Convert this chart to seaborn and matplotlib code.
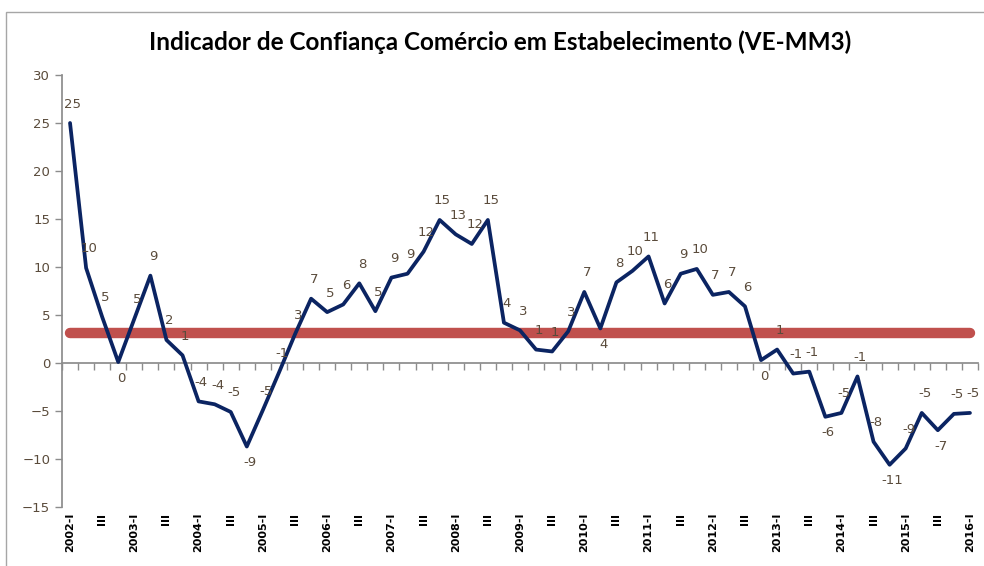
"""Indicador de Confiança Comércio em Estabelecimento (VE-MM3).

Quarterly line chart 2002-I .. 2016-I with data labels and a thick
reference line at the period average.
"""
import matplotlib
matplotlib.use("Agg")  # headless backend before pyplot
import matplotlib.pyplot as plt
import pandas as pd
import seaborn as sns
from matplotlib.patches import Rectangle

# ── data ──────────────────────────────────────────────────────────────────────
trimestre = list(range(57))  # 0 = 2002-I ... 56 = 2016-I
indicador = [25.0, 9.9, 4.8, 0.1, 4.6, 9.1, 2.4, 0.8, -4.0, -4.3,
             -5.1, -8.7, -4.9, -1.0, 3.0, 6.7, 5.3, 6.1, 8.3, 5.4,
             8.9, 9.3, 11.6, 14.9, 13.4, 12.4, 14.9, 4.2, 3.4, 1.4,
             1.2, 3.3, 7.4, 3.6, 8.4, 9.6, 11.1, 6.2, 9.3, 9.8,
             7.1, 7.4, 5.9, 0.3, 1.4, -1.1, -0.9, -5.6, -5.2, -1.4,
             -8.2, -10.6, -8.9, -5.2, -7.0, -5.3, -5.2]
media = 3.1
tick_pos = list(range(0, 57, 2))
tick_labels = ["2002-I", "III", "2003-I", "III", "2004-I", "III", "2005-I",
               "III", "2006-I", "III", "2007-I", "III", "2008-I", "III",
               "2009-I", "III", "2010-I", "III", "2011-I", "III", "2012-I",
               "III", "2013-I", "III", "2014-I", "III", "2015-I", "III",
               "2016-I"]
abaixo = {3, 11, 33, 43, 47, 51, 54}  # labels placed under the point

NAVY = "#0b2462"
RED = "#c0504d"
GREY = "#8c8c8c"
TXT = "#5a4b3b"

sns.set_theme(style="white")
plt.rcParams["font.family"] = ["DejaVu Sans"]

W, H = 984, 566
fig = plt.figure(figsize=(W / 100, H / 100), dpi=100)
ax = fig.add_axes([62 / W, 1 - 507 / H, (978 - 62) / W, (507 - 75) / H])

df = pd.DataFrame({"trimestre": trimestre, "indicador": indicador})

# reference line (average) under the series
ax.plot([trimestre[0], trimestre[-1]], [media, media], color=RED, lw=7.5,
        solid_capstyle="round", zorder=2)
sns.lineplot(data=df, x="trimestre", y="indicador", ax=ax, color=NAVY,
             lw=2.7, zorder=3)

for t, v in zip(trimestre, indicador):
    below = t in abaixo
    ax.annotate(f"{v:.0f}", (t, v), xytext=(2, -7 if below else 9),
                textcoords="offset points", ha="center",
                va="top" if below else "bottom", fontsize=9.5, color=TXT,
                zorder=4)

# ── axes ──────────────────────────────────────────────────────────────────────
ax.set_xlim(-0.5, 56.5)
ax.set_ylim(-15, 30)
ax.set_yticks(range(-15, 31, 5))
ax.set_xticks(tick_pos)
ax.set_xticklabels(tick_labels, rotation=90, fontsize=8, fontweight="bold",
                   color="black")
ax.tick_params(axis="x", length=0, pad=4)
ax.tick_params(axis="y", left=True, length=5, width=1, color=GREY,
               labelsize=9.5, labelcolor=TXT, direction="out")
ax.set(xlabel="", ylabel="")
for side in ("top", "right", "bottom"):
    ax.spines[side].set_visible(False)
ax.spines["left"].set_color(GREY)

# category axis crossing at zero, ticks between categories
zero = ax.secondary_xaxis(15 / 45)
zero.set_xticks([p - 0.5 for p in trimestre] + [trimestre[-1] + 0.5])
zero.set_xticklabels([])
zero.tick_params(length=5, width=1, color=GREY, direction="out")
zero.spines["bottom"].set_color(GREY)

fig.text(0.5086, 1 - 42 / H,
         "Indicador de Confiança Comércio em Estabelecimento (VE-MM3)",
         ha="center", va="center", fontsize=17.5, fontweight="bold",
         color="black", family=["Lato", "DejaVu Sans"])

fig.patches.append(Rectangle((6 / W, -0.05), 1.1, 1.05 - 12 / H,
                             transform=fig.transFigure, fill=False,
                             edgecolor="#a6a6a6", lw=1))

fig.savefig("out.png", dpi=100)
